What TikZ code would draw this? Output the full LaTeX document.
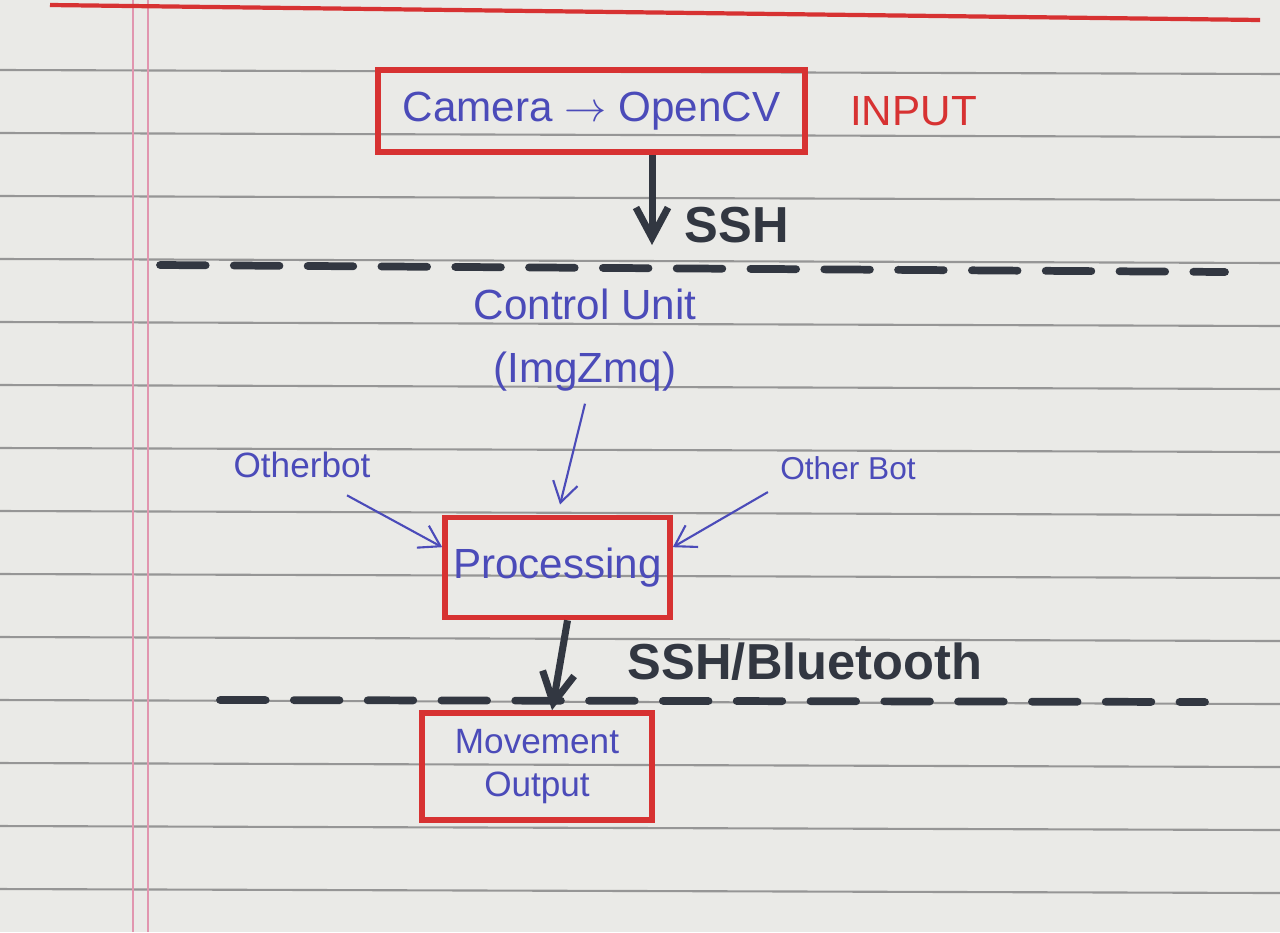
\documentclass[tikz,border=0pt]{standalone}
\usepackage{fontspec}
\setmainfont{Liberation Sans}
\usetikzlibrary{arrows.meta, positioning, calc}
\definecolor{penred}{RGB}{215,50,50}
\definecolor{penblue}{RGB}{75,75,185}
\definecolor{inkgrey}{RGB}{50,55,65}
\definecolor{paper}{RGB}{234,234,231}
\definecolor{ruled}{RGB}{150,150,150}
\definecolor{margin}{RGB}{225,150,175}

\begin{document}
\begin{tikzpicture}[
  redbox/.style={draw=penred, line width=1.6pt, text=penblue, align=center, inner sep=0pt},
  bluetext/.style={text=penblue, align=center},
  thinarrow/.style={penblue, semithick, -{Straight Barb[length=2mm,width=2.5mm]}},
  thickarrow/.style={inkgrey, line width=2pt, -{Straight Barb[length=3mm,width=3.2mm]}},
  cut/.style={inkgrey, line width=2.2pt, dash pattern=on 13pt off 8pt, line cap=round}
]
  \useasboundingbox (0,0) rectangle (12.8,-9.32);
  % ruled paper
  \fill[paper] (0,0) rectangle (12.8,-9.32);
  \foreach \y in {0.70,1.33,...,8.90}{
    \draw[ruled, line width=0.6pt] (0,-\y) -- (12.8,-\y-0.04);
  }
  \draw[margin, line width=0.8pt] (1.33,0) -- (1.33,-9.32);
  \draw[margin, line width=0.8pt] (1.48,0) -- (1.48,-9.32);
  \draw[penred, line width=1.2pt] (0.5,-0.05) -- (12.6,-0.2);

  % input stage
  \node[redbox, minimum width=4.27cm, minimum height=0.82cm, font=\large] (input) at (5.915,-1.11) {Camera $\rightarrow$ OpenCV};
  \node[right=0.3cm of input, text=penred, font=\large] (inputlbl) {INPUT};
  \coordinate (sshend) at (6.52,-2.45);
  \draw[thickarrow] (input.south -| sshend) -- (sshend);
  \node[font=\Large\bfseries, text=inkgrey] (ssh) at (7.37,-2.25) {SSH};
  \draw[cut] (1.6,-2.65) -- (12.25,-2.72);

  % control unit and processing
  \node[bluetext, font=\large] (ctrl) at (5.85,-3.4) {Control Unit\\[4pt](ImgZmq)};
  \node[redbox, minimum width=2.25cm, minimum height=1.0cm, font=\large] (proc) at (5.575,-5.675) {Processing};
  \node[bluetext] (leftbot) at (3.02,-4.65) {Otherbot};
  \node[bluetext, font=\small] (rightbot) at (8.48,-4.68) {Other Bot};
  \draw[thinarrow, shorten >=3pt] (ctrl.south) -- (proc.north);
  \draw[thinarrow] ($(leftbot.south)+(0.45,-0.05)$) -- (proc.170);
  \draw[thinarrow] (rightbot.south west) -- (proc.10);

  % output stage
  \node[redbox, minimum width=2.3cm, minimum height=1.07cm, align=center] (move) at (5.37,-7.665) {Movement\\Output};
  \draw[thickarrow] ($(proc.south)+(0.1,0)$) -- ($(move.north)+(0.15,0)$);
  \node[font=\Large\bfseries, text=inkgrey] (bt) at (8.05,-6.62) {SSH/Bluetooth};
  \draw[cut] (2.2,-7.0) -- (12.05,-7.02);
\end{tikzpicture}
\end{document}
